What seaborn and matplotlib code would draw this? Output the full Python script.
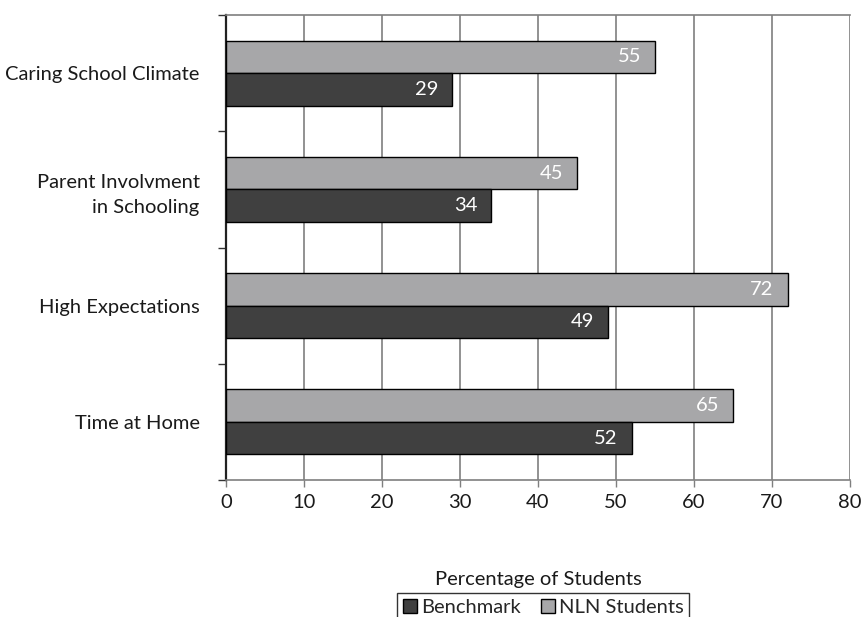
import pandas as pd
import seaborn as sns
import matplotlib.pyplot as plt
from matplotlib.patches import Patch

categorias = ["Caring School Climate", "Parent Involvment\nin Schooling",
              "High Expectations", "Time at Home"]
nln = [55, 45, 72, 65]
benchmark = [29, 34, 49, 52]
ticks_x = list(range(0, 90, 10))

COR_ESCURA = "#404040"
COR_CLARA = "#a7a7a9"
FONTE = 14.5

dados = pd.DataFrame({
    "categoria": categorias * 2,
    "valor": nln + benchmark,
    "grupo": ["NLN Students"] * 4 + ["Benchmark"] * 4,
})

sns.set_theme(style="white")
plt.rcParams["font.family"] = ["Lato", "DejaVu Sans"]
plt.rcParams["font.size"] = FONTE

fig = plt.figure(figsize=(8.62, 6.17), dpi=100)
ax = fig.add_axes([226 / 862, 1 - 480 / 617, (850 - 226) / 862, (480 - 15) / 617])

sns.barplot(data=dados, y="categoria", x="valor", hue="grupo", orient="h",
            order=categorias, hue_order=["NLN Students", "Benchmark"],
            palette=[COR_CLARA, COR_ESCURA], width=0.56,
            edgecolor="black", linewidth=1, legend=False, ax=ax, zorder=3)

for cont in ax.containers:
    for barra in cont:
        w = barra.get_width()
        ax.annotate(f"{w:.0f}", (w, barra.get_y() + barra.get_height() / 2),
                    xytext=(-10, 0), textcoords="offset points",
                    ha="right", va="center", color="white", fontsize=FONTE, zorder=4)

ax.set_xlim(0, 80)
ax.set_ylim(3.5, -0.5)
ax.set_xticks(ticks_x)
ax.set_yticks(range(len(categorias)))
ax.set_yticklabels(categorias, ha="right", linespacing=1.6)
ax.set_yticks([-0.5, 0.5, 1.5, 2.5, 3.5], minor=True)

ax.grid(axis="x", color="#7f7f7f", linewidth=1.2, zorder=0)
ax.set_axisbelow(True)

ax.tick_params(axis="y", which="major", left=True, length=0, pad=19,
               labelsize=FONTE, colors="#1a1a1a")
ax.tick_params(axis="y", which="minor", left=True, length=6, width=1, color="#333333")
ax.tick_params(axis="x", length=5, width=1, color="#7f7f7f", pad=5, labelsize=FONTE,
               labelcolor="#1a1a1a", bottom=True)

for lado in ["top", "bottom", "right"]:
    ax.spines[lado].set_color("#7f7f7f")
    ax.spines[lado].set_linewidth(1.2)
ax.spines["right"].set_visible(False)
ax.spines["left"].set_color("#222222")
ax.spines["left"].set_linewidth(1.6)

ax.set_ylabel("")
ax.set_xlabel("Percentage of Students", fontsize=FONTE, color="#1a1a1a", labelpad=0)
ax.xaxis.set_label_coords(0.5, -(580 - 480) / 465, transform=ax.transAxes)
ax.xaxis.label.set_va("center")

alcas = [Patch(facecolor=COR_ESCURA, edgecolor="black", label="Benchmark"),
         Patch(facecolor=COR_CLARA, edgecolor="black", label="NLN Students")]
leg = fig.legend(handles=alcas, loc="upper center", ncol=2,
                 bbox_to_anchor=(543 / 862, 1 - 593 / 617),
                 frameon=True, fancybox=False, edgecolor="black",
                 handlelength=0.7, handleheight=0.7, handletextpad=0.2,
                 columnspacing=1.0, borderpad=0.3, fontsize=FONTE, borderaxespad=0)
leg.get_frame().set_linewidth(1)

plt.savefig("out.png", dpi=100)
